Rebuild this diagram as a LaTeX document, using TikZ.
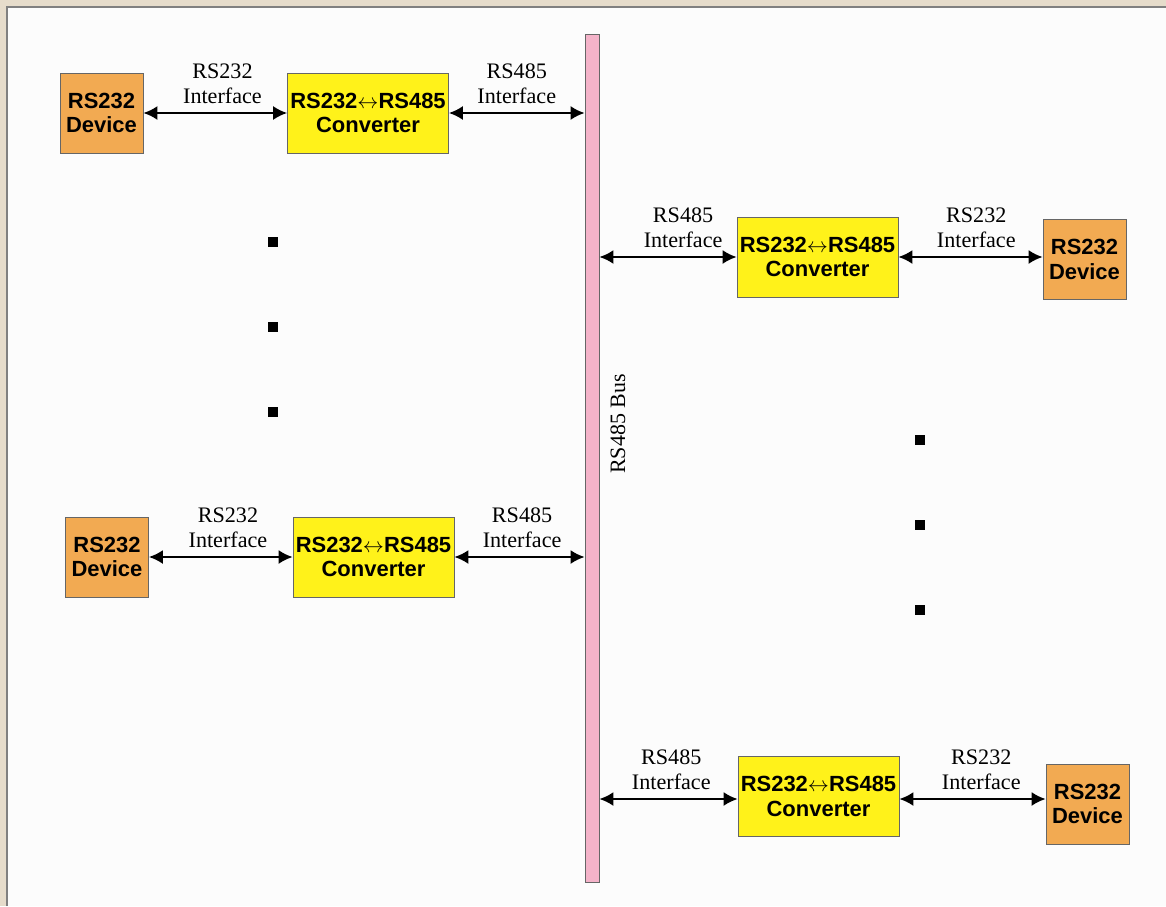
\documentclass[tikz,border=0pt]{standalone}
\usepackage{fontspec}
\setmainfont{Liberation Serif}
\setsansfont{Liberation Sans}
\usepackage{tikz}
\usetikzlibrary{shapes,arrows,arrows.meta,positioning,calc}

\definecolor{paper}{HTML}{E6DCCB}
\definecolor{devorange}{HTML}{F2AA52}
\definecolor{convyellow}{HTML}{FFF21A}
\definecolor{buspink}{HTML}{F4B3C9}

\begin{document}
\begin{tikzpicture}[x=0.02cm,y=-0.02cm,
    >={Latex[length=8pt,width=8pt]},
    device/.style={draw=black!60, fill=devorange, minimum width=1.66cm, minimum height=1.6cm,
        font=\sffamily\bfseries\fontsize{12.5}{14}\selectfont, align=center, inner sep=0pt},
    converter/.style={draw=black!60, fill=convyellow, minimum width=3.22cm, minimum height=1.6cm,
        font=\sffamily\bfseries\fontsize{12.5}{14}\selectfont, align=center, inner sep=0pt},
    link/.style={<->, line width=1.3pt},
    iface/.style={above, align=center, inner sep=2pt, yshift=2.5pt, font=\fontsize{12.6}{14.2}\selectfont},
    dot/.style={fill=black, minimum size=0.2cm, inner sep=0pt}]
% Background and panel
\useasboundingbox (0,0) rectangle (1166,906);
\fill[paper] (0,0) rectangle (1166,906);
\fill[white!99!black] (7,7) rectangle (1166,906);
\draw[black!50, line width=1pt] (7,906) -- (7,7) -- (1166,7);

% RS485 bus
\node[draw=black!60, fill=buspink, minimum width=0.28cm, minimum height=16.96cm, inner sep=0pt] (bus) at (592,458) {};
\node[rotate=90, font=\fontsize{12.5}{14}\selectfont] (buslabel) at (618,424) {RS485 Bus};

% Left side
\node[device] (dev1) at (101.5,113) {RS232\\Device};
\node[converter] (conv1) at (368,113) {RS232$\leftrightarrow$RS485\\Converter};
\node[device] (dev2) at (107,557) {RS232\\Device};
\node[converter] (conv2) at (373.5,557) {RS232$\leftrightarrow$RS485\\Converter};

% Right side
\node[converter] (conv3) at (817.5,257) {RS232$\leftrightarrow$RS485\\Converter};
\node[device] (dev3) at (1084.5,259.5) {RS232\\Device};
\node[converter] (conv4) at (818.5,796.5) {RS232$\leftrightarrow$RS485\\Converter};
\node[device] (dev4) at (1087.5,804) {RS232\\Device};

% Interfaces
\draw[link] (dev1.east) -- node[iface, pos=0.55] {RS232\\Interface} (conv1.west);
\draw[link] (conv1.east) -- node[iface, pos=0.5] {RS485\\Interface} (conv1.east -| bus.west);
\draw[link] (dev2.east) -- node[iface, pos=0.55] {RS232\\Interface} (conv2.west);
\draw[link] (conv2.east) -- node[iface, pos=0.52] {RS485\\Interface} (conv2.east -| bus.west);
\draw[link] (conv3.west -| bus.east) -- node[iface, pos=0.61] {RS485\\Interface} (conv3.west);
\draw[link] (conv3.east) -- node[iface, pos=0.54] {RS232\\Interface} (conv3.east -| dev3.west);
\draw[link] ($(conv4.west -| bus.east)+(0,2.5)$) -- node[iface, pos=0.52] {RS485\\Interface} ($(conv4.west)+(0,2.5)$);
\draw[link] ($(conv4.east)+(0,2.5)$) -- node[iface, pos=0.56] {RS232\\Interface} ($(conv4.east -| dev4.west)+(0,2.5)$);

% Ellipsis dots
\foreach \y in {242,327,412}
    \node[dot] at (273,\y) {};
\foreach \y in {440,525,610}
    \node[dot] at (920,\y) {};
\end{tikzpicture}
\end{document}
